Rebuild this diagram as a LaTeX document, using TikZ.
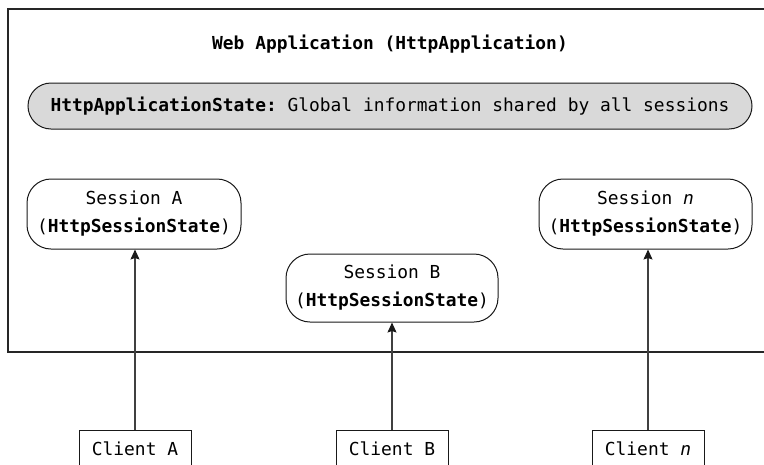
\documentclass[tikz,border=0pt]{standalone}
\usepackage{fontspec}
\setmonofont{DejaVu Sans Mono}
\usetikzlibrary{arrows.meta}
\begin{document}
\begin{tikzpicture}[x=1pt,y=-1pt,
  every node/.style={font=\ttfamily\fontsize{17.9}{28}\selectfont, text=black, inner sep=0pt},
  frame/.style={draw=black!85, line width=1.5pt},
  session/.style={draw=black!90, line width=1pt, rounded corners=24pt, align=center},
  pill/.style={draw=black!90, line width=1pt, fill=black!15, rounded corners=23pt},
  client/.style={draw=black!90, line width=1pt, minimum width=112pt, minimum height=38pt},
  arr/.style={draw=black!75, line width=1.1pt, -{Stealth[length=10pt,width=9pt,inset=1.5pt,color=black!90]}}
]
\useasboundingbox (0,0) rectangle (764,464);
\node[frame, anchor=north west, minimum width=770pt, minimum height=343pt] (app) at (7,8) {};
\node (title) at (390,44) {\bfseries Web Application (HttpApplication)};
\node[pill, minimum width=724pt, minimum height=46pt] (state) at (390,106)
  {\textbf{HttpApplicationState:} Global information shared by all sessions};
\node[session, minimum width=214pt, minimum height=70pt] (sa) at (134,214)
  {Session A\\(\textbf{HttpSessionState})};
\node[session, minimum width=212pt, minimum height=68pt] (sb) at (392,288)
  {Session B\\(\textbf{HttpSessionState})};
\node[session, minimum width=213pt, minimum height=70pt] (sn) at (645.5,214)
  {Session \textit{n}\\(\textbf{HttpSessionState})};
\node[client] (ca) at (135,449) {Client A};
\node[client] (cb) at (392,449) {Client B};
\node[client] (cn) at (648,449) {Client \textit{n}};
\draw[arr] (ca.north) -- (ca.north |- sa.south);
\draw[arr] (cb.north) -- (cb.north |- sb.south);
\draw[arr] (cn.north) -- (cn.north |- sn.south);
\end{tikzpicture}
\end{document}
